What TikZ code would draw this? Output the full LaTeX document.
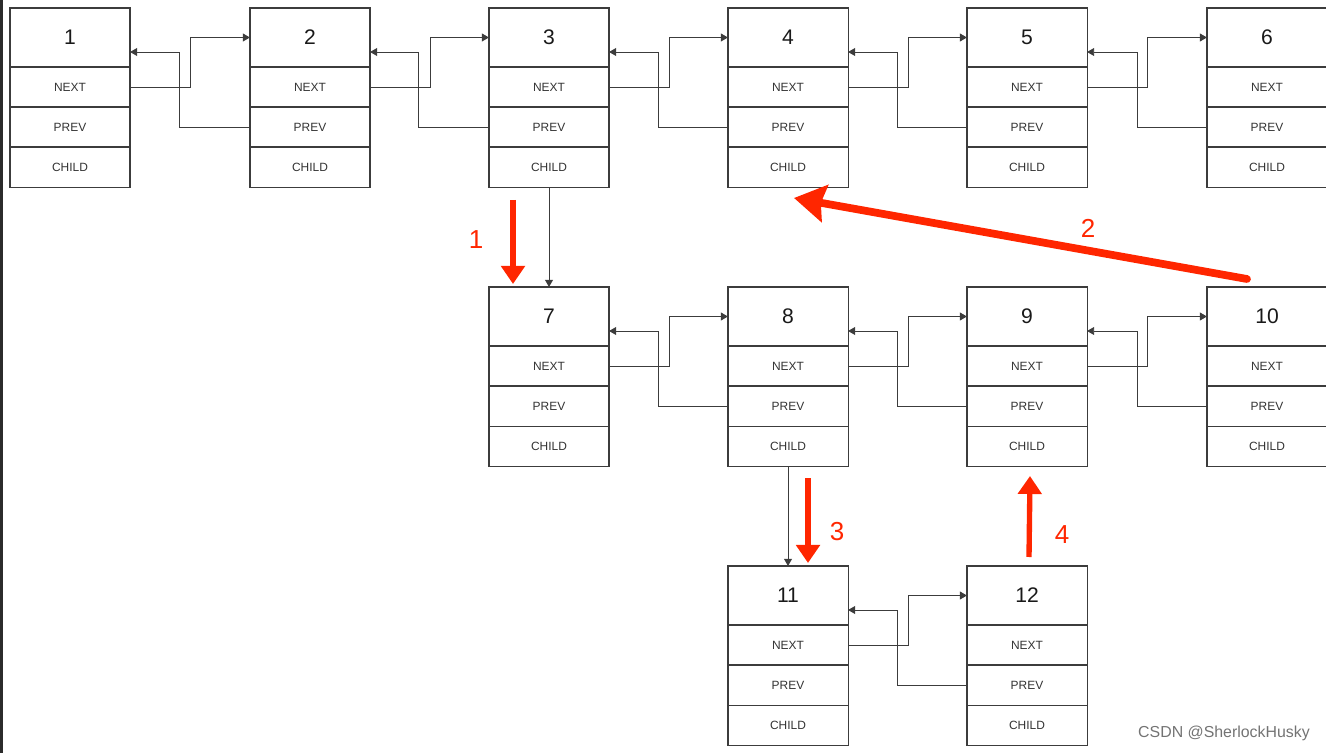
\documentclass[tikz,border=0pt]{standalone}
\usepackage{fontspec}
\setmainfont{Liberation Sans}
\usetikzlibrary{arrows.meta,positioning}
\definecolor{hlred}{RGB}{255,38,0}
\definecolor{edge}{RGB}{60,60,60}
\begin{document}
\begin{tikzpicture}[x=0.025cm,y=-0.025cm,
		titlebox/.style={draw=edge,line width=0.75pt,minimum width=3cm,minimum height=1.475cm,outer sep=0pt,inner sep=0pt,font=\fontsize{15}{18}\selectfont,text=black!90},
		fieldbox/.style={draw=edge,line width=0.75pt,minimum width=3cm,minimum height=1cm,outer sep=0pt,inner sep=0pt,font=\fontsize{8.5}{10}\selectfont,text=black!80},
		link/.style={draw=edge,line width=0.7pt,-{Triangle[length=0.18cm,width=0.2cm]}},
		hlarrow/.style={draw=hlred,line width=3.8pt,-{Triangle[length=0.45cm,width=0.58cm]}},
		hllabel/.style={text=hlred,font=\fontsize{18.5}{22}\selectfont}]
		\useasboundingbox (0,0) rectangle (1326,753);
		\fill[black!83] (0,0) rectangle (2.5,753);
		% list nodes
		\foreach \n/\x/\y in {1/70/8, 2/310/8, 3/549/8, 4/788/8, 5/1027/8, 6/1267/8, 7/549/287, 8/788/287, 9/1027/287, 10/1267/287, 11/788/566, 12/1027/566} {
			\node[titlebox] (n\n) at (\x, \y+29.5) {\n};
			\node[fieldbox, below=0pt of n\n] (n\n-next) {NEXT};
			\node[fieldbox, below=0pt of n\n-next] (n\n-prev) {PREV};
			\node[fieldbox, below=0pt of n\n-prev] (n\n-child) {CHILD};
		};
		% next / prev pointers
		\foreach \a/\b in {1/2, 2/3, 3/4, 4/5, 5/6, 7/8, 8/9, 9/10, 11/12} {
			\draw[link] (n\a-next.east) -- ++(60,0) |- (n\b.west);
			\draw[link] (n\b-prev.west) -- ++(-70,0) |- ([yshift=-0.3625cm]n\a.east);
		};
		% child pointers
		\draw[link] (n3-child.south) -- (n7.north);
		\draw[link] (n8-child.south) -- (n11.north);
		% traversal order
		\coordinate (r1s) at (513,200);
		\coordinate (r1e) at (513,284);
		\coordinate (r2s) at (1247,279);
		\coordinate (r2e) at (794,198);
		\coordinate (r3s) at (808,478);
		\coordinate (r3e) at (808,563);
		\coordinate (r4s) at (1029,557);
		\coordinate (r4e) at (1030,476);
		\draw[hlarrow] (r1s) -- (r1e);
		\draw[hlarrow, line width=5.5pt, line cap=round, -{Stealth[length=0.78cm,width=0.93cm,inset=0.1cm]}] (r2s) -- (r2e);
		\draw[hlarrow] (r3s) -- (r3e);
		\draw[hlarrow] (r4s) -- (r4e);
		\node[hllabel] (l1) at (476,240) {1};
		\node[hllabel] (l2) at (1088,228) {2};
		\node[hllabel] (l3) at (837,532) {3};
		\node[hllabel] (l4) at (1062,535) {4};
		\node[text=black!55, font=\fontsize{11.3}{13}\selectfont] (wm) at (1224,733) {CSDN @SherlockHusky};
	\end{tikzpicture}
\end{document}
